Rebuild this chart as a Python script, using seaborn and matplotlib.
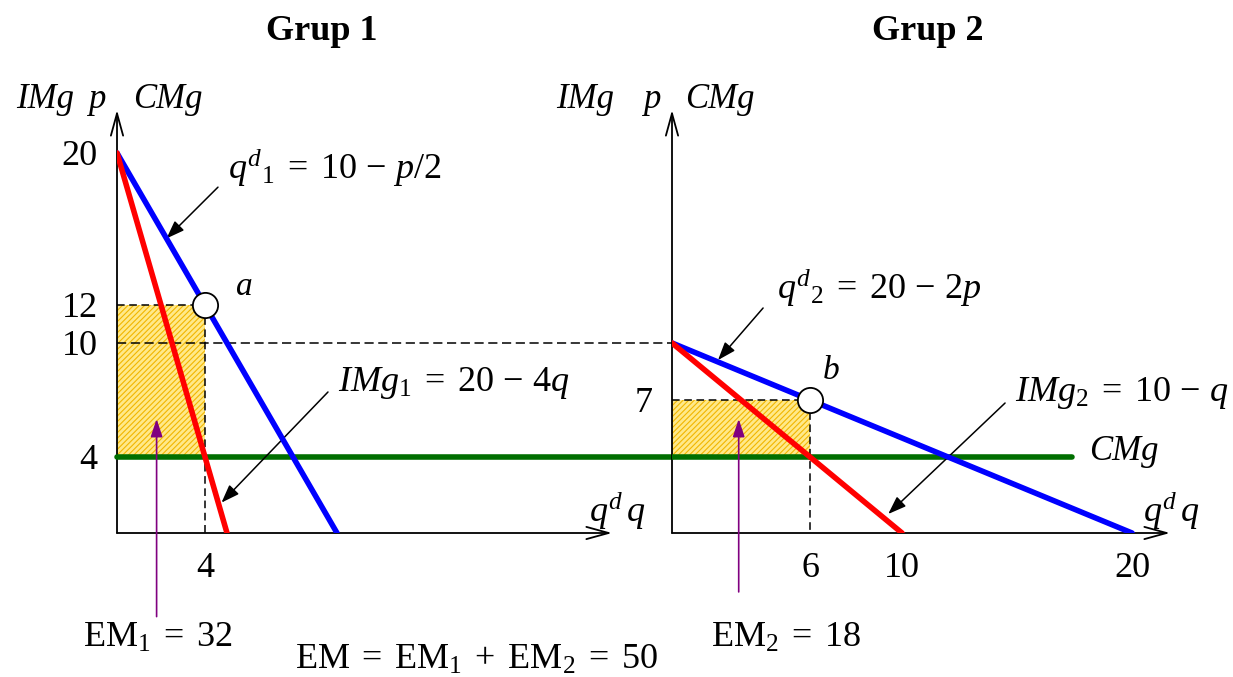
import matplotlib.pyplot as plt
import seaborn as sns
import pandas as pd

# Group 1: q = 10 - p/2 , IMg1 = 20 - 4q
g1_demand_q = [0, 10]
g1_demand_p = [20, 0]
g1_img_q = [0, 5]
g1_img_p = [20, 0]
g1_opt_q, g1_opt_p = 4, 12
# Group 2: q = 20 - 2p , IMg2 = 10 - q
g2_demand_q = [0, 20]
g2_demand_p = [10, 0]
g2_img_q = [0, 10]
g2_img_p = [10, 0]
g2_opt_q, g2_opt_p = 6, 7
# marginal cost
cmg = 4
cmg_end_q = 17.4
# tick labels
g1_yticks = [4, 10, 12, 20]
g1_xticks = [4]
g2_yticks = [7]
g2_xticks = [6, 10, 20]
em1, em2 = 32, 18

sns.set_theme(style='white')
plt.rcParams['font.family'] = ['Liberation Serif', 'DejaVu Serif']
plt.rcParams['mathtext.fontset'] = 'custom'
plt.rcParams['mathtext.rm'] = 'Liberation Serif'
plt.rcParams['mathtext.it'] = 'Liberation Serif:italic'
plt.rcParams['mathtext.bf'] = 'Liberation Serif:bold'
plt.rcParams['text.color'] = 'black'
plt.rcParams['xtick.color'] = 'black'
plt.rcParams['ytick.color'] = 'black'
plt.rcParams['hatch.linewidth'] = 0.8

BLUE, RED, GREEN, PURPLE = '#0000ff', '#ff0000', '#006f00', '#800080'
YMAX = 22.26
X1MAX = 22.5
X2MAX = 21.65

fig = plt.figure(figsize=(12.33, 6.77), dpi=100)
ax1 = fig.add_axes([117 / 1233, 144 / 677, 495 / 1233, 423 / 677])
ax2 = fig.add_axes([672 / 1233, 144 / 677, 498 / 1233, 423 / 677])
# where the second origin falls in the first panel's q units
q_join = X1MAX * (ax2.get_position().x0 - ax1.get_position().x0) / ax1.get_position().width


def panel(ax, dq, dp, iq, ip, oq, op, xmax, xticks, yticks):
    df = pd.DataFrame({'q': dq + iq, 'p': dp + ip,
                       'curve': ['d'] * len(dq) + ['img'] * len(iq)})
    sns.lineplot(data=df, x='q', y='p', hue='curve', palette={'d': BLUE, 'img': RED},
                 lw=4, legend=False, sort=False, ax=ax, zorder=4)
    # surplus area
    ax.fill_between([0, oq], [cmg, cmg], [op, op], facecolor='#ffe98a',
                    edgecolor='#f2b600', hatch='//////', linewidth=0, zorder=1)
    ax.plot([0, oq], [op, op], ls=(0, (5, 3)), color='black', lw=1.1, zorder=2)
    ax.plot([oq, oq], [op, 0], ls=(0, (5, 3)), color='black', lw=1.1, zorder=2)
    sns.scatterplot(x=[oq], y=[op], s=330, color='white', edgecolor='black',
                    linewidth=1.3, zorder=6, ax=ax)
    # axes with arrows
    for end in [(xmax, 0), (0, YMAX)]:
        ax.annotate('', xy=end, xytext=(0, 0), annotation_clip=False,
                    arrowprops=dict(arrowstyle='->,head_length=0.8,head_width=0.22',
                                    mutation_scale=20, lw=1.3, color='black',
                                    shrinkA=0, shrinkB=0))
    ax.set_xlim(0, xmax)
    ax.set_ylim(0, YMAX)
    ax.set_xticks(xticks)
    ax.set_yticks(yticks)
    ax.tick_params(length=0, pad=14, labelsize=26)
    ax.set_xlabel('')
    ax.set_ylabel('')
    ax.set_facecolor('none')
    sns.despine(ax=ax, left=True, bottom=True)


panel(ax1, g1_demand_q, g1_demand_p, g1_img_q, g1_img_p, g1_opt_q, g1_opt_p,
      X1MAX, g1_xticks, g1_yticks)
panel(ax2, g2_demand_q, g2_demand_p, g2_img_q, g2_img_p, g2_opt_q, g2_opt_p,
      X2MAX, g2_xticks, g2_yticks)

# CMg line running across both panels, and the dashed p = 10 link
ax1.plot([0, q_join], [cmg, cmg], color=GREEN, lw=4, clip_on=False, zorder=3)
ax2.plot([0, cmg_end_q], [cmg, cmg], color=GREEN, lw=4, zorder=3)
ax1.plot([0, q_join], [10, 10], ls=(0, (6, 3)), color='black', lw=1.1,
         clip_on=False, zorder=2)

# titles and axis headers
fig.text(322 / 1233, 1 - 32 / 677, 'Grup 1', ha='center', va='center',
         fontsize=26, weight='bold')
fig.text(928 / 1233, 1 - 32 / 677, 'Grup 2', ha='center', va='center',
         fontsize=26, weight='bold')
for ax, xs in [(ax1, (-3.27, -0.91, 2.32)), (ax2, (-3.78, -0.87, 2.09))]:
    for x, s in zip(xs, ['IMg', 'p', 'CMg']):
        ax.text(x, 22.8, s, ha='center', va='center', fontsize=25, style='italic')
ax1.text(21.45, 0.6, r'$q^{d}\,q$', fontsize=26, ha='left', va='baseline')
ax2.text(20.48, 0.6, r'$q^{d}\,q$', fontsize=26, ha='left', va='baseline')

# labels of points
ax1.text(5.77, 12.95, 'a', fontsize=24, style='italic', ha='center', va='center')
ax2.text(6.91, 8.53, 'b', fontsize=24, style='italic', ha='center', va='center')

# curve equations with pointers
arrow_k = dict(arrowstyle='-|>,head_length=0.55,head_width=0.2', mutation_scale=20,
               lw=1.1, color='black', shrinkA=0, shrinkB=0)
ax1.text(5.05, 18.63, r'$q^{d}{}_{1} \;=\; 10 \,-\, p/2$', fontsize=26, va='baseline')
ax1.annotate('', xy=(2.25, 15.5), xytext=(4.59, 18.2), arrowprops=arrow_k)
ax1.text(10.05, 7.47, r'$IMg_{1} \;=\; 20 \,-\, 4q$', fontsize=26, va='baseline')
ax1.annotate('', xy=(4.75, 1.6), xytext=(9.59, 7.42), arrowprops=arrow_k)
ax2.text(4.57, 12.3, r'$q^{d}{}_{2} \;=\; 20 \,-\, 2p$', fontsize=26, va='baseline')
ax2.annotate('', xy=(2.0, 9.1), xytext=(3.96, 11.84), arrowprops=arrow_k)
ax2.text(14.9, 6.95, r'$IMg_{2} \;=\; 10 \,-\, q$', fontsize=26, va='baseline')
ax2.annotate('', xy=(9.4, 1.0), xytext=(14.48, 6.84), arrowprops=arrow_k)
ax2.text(18.13, 3.84, 'CMg', fontsize=25, style='italic', va='baseline')

# surplus labels
arrow_p = dict(arrowstyle='-|>,head_length=0.6,head_width=0.2', mutation_scale=18,
               lw=1.2, color=PURPLE, shrinkA=0, shrinkB=0)
ax1.annotate('', xy=(1.8, 6.0), xytext=(1.8, -4.4), arrowprops=arrow_p,
             annotation_clip=False)
ax2.annotate('', xy=(2.9, 6.0), xytext=(2.9, -3.1), arrowprops=arrow_p,
             annotation_clip=False)
ax1.text(1.86, -4.68, rf'$\mathrm{{EM}}_1 \;=\; {em1}$', fontsize=26,
         ha='center', va='top')
ax2.text(4.96, -4.68, rf'$\mathrm{{EM}}_2 \;=\; {em2}$', fontsize=26,
         ha='center', va='top')
fig.text(476 / 1233, 1 - 660 / 677,
         rf'$\mathrm{{EM}} \;=\; \mathrm{{EM}}_1 \;+\; \mathrm{{EM}}_2 \;=\; {em1 + em2}$',
         fontsize=26, ha='center', va='center')

plt.savefig('out.png', dpi=100)
